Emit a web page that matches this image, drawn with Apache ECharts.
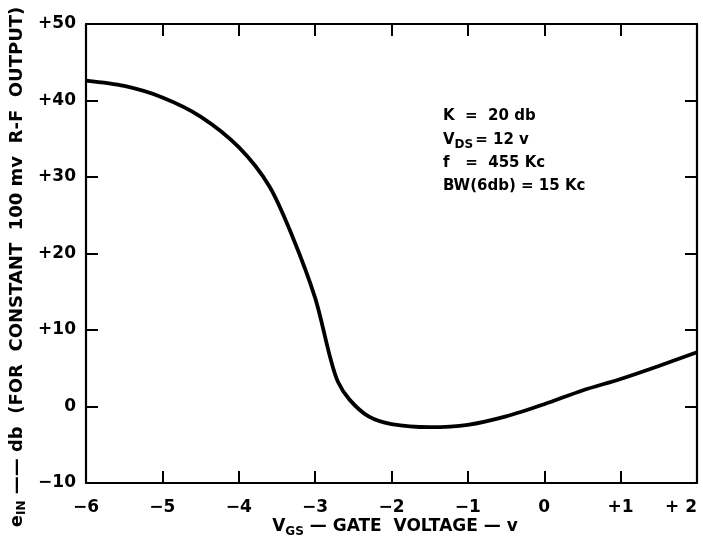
<!DOCTYPE html>
<html>
<head>
<meta charset="utf-8">
<script src="https://cdn.jsdelivr.net/npm/echarts@6/dist/echarts.min.js"></script>
<style>html,body{margin:0;padding:0;background:#fff;}#c{width:703px;height:547px;}</style>
</head>
<body>
<div id="c"></div>
<script>
const gateVoltage = [-6, -5.5, -5, -4.5, -4, -3.6, -3.3, -3.0, -2.8, -2.7, -2.55, -2.3, -2.0, -1.5, -1.0, -0.5, 0, 0.5, 1, 1.5, 2];
const eIn = [42.6, 41.9, 40.4, 37.9, 33.9, 28.8, 22.3, 14.2, 6.3, 3.2, 0.9, -1.3, -2.3, -2.7, -2.4, -1.3, 0.3, 2.1, 3.6, 5.3, 7.1];
const xTickLabels = {"-6": "−6", "-5": "−5", "-4": "−4", "-3": "−3", "-2": "−2", "-1": "−1", "0": "0", "1": "+1", "2": "+ 2"};
const yTickLabels = {"-10": "−10", "0": "0", "10": "+10", "20": "+20", "30": "+30", "40": "+40", "50": "+50"};
const notes = ["K  =  20 db", "{v|V}{s|DS}{v|= 12 v}", "f   =  455 Kc", "BW(6db) = 15 Kc"];

const FONT = "DejaVu Sans";
const chart = echarts.init(document.getElementById('c'));
const lineStyle = {color: '#000', width: 2.2};
const tick = {show: true, inside: true, length: 12, lineStyle: {color: '#000', width: 2}};

chart.setOption({
  backgroundColor: '#fff',
  animation: false,
  grid: {left: 86, right: 6, top: 24, bottom: 64, outerBoundsMode: 'none', containLabel: false},
  xAxis: [
    {type: 'value', min: -6, max: 2, interval: 1, position: 'bottom',
     axisLine: {show: true, onZero: false, lineStyle}, axisTick: tick, splitLine: {show: false},
     axisLabel: {color: '#000', fontFamily: FONT, fontWeight: 'bold', fontSize: 17, margin: 16,
       alignMaxLabel: 'right',
       formatter: v => xTickLabels[String(v)] || ''}},
    {type: 'value', min: -6, max: 2, interval: 1, position: 'top',
     axisLine: {show: true, onZero: false, lineStyle}, axisTick: tick, splitLine: {show: false},
     axisLabel: {show: false}}
  ],
  yAxis: [
    {type: 'value', min: -10, max: 50, interval: 10, position: 'left',
     axisLine: {show: true, onZero: false, lineStyle}, axisTick: tick, splitLine: {show: false},
     axisLabel: {color: '#000', fontFamily: FONT, fontWeight: 'bold', fontSize: 17, margin: 10,
       formatter: v => yTickLabels[String(v)] || ''}},
    {type: 'value', min: -10, max: 50, interval: 10, position: 'right',
     axisLine: {show: true, onZero: false, lineStyle}, axisTick: tick, splitLine: {show: false},
     axisLabel: {show: false}}
  ],
  series: [{
    type: 'line', smooth: 0.3, symbol: 'none',
    data: gateVoltage.map((x, i) => [x, eIn[i]]),
    lineStyle: {color: '#000', width: 3.8}
  }],
  graphic: [
    {type: 'text', x: 395, y: 527, style: {
      text: '{v|V}{s|GS}{v| — GATE  VOLTAGE — v}', align: 'center', verticalAlign: 'middle',
      rich: {v: {fontFamily: FONT, fontWeight: 'bold', fontSize: 17, fill: '#000'},
             s: {fontFamily: FONT, fontWeight: 'bold', fontSize: 12, fill: '#000', padding: [10, 0, 0, 0]}}}},
    {type: 'text', x: 17, y: 267, rotation: Math.PI / 2, style: {
      text: '{v|e}{s|IN}{v| —— db  (FOR  CONSTANT  100 mv  R-F  OUTPUT)}', align: 'center', verticalAlign: 'middle',
      rich: {v: {fontFamily: FONT, fontWeight: 'bold', fontSize: 18, fill: '#000'},
             s: {fontFamily: FONT, fontWeight: 'bold', fontSize: 12, fill: '#000', padding: [10, 0, 0, 0]}}}},
    ...notes.map((t, i) => ({type: 'text', x: 443, y: [116, 140, 163, 186][i], style: {
      text: t, align: 'left', verticalAlign: 'middle',
      rich: {v: {fontFamily: FONT, fontWeight: 'bold', fontSize: 15, fill: '#000'},
             s: {fontFamily: FONT, fontWeight: 'bold', fontSize: 12, fill: '#000', padding: [10, 2, 0, 0]}},
      fontFamily: FONT, fontWeight: 'bold', fontSize: 15, fill: '#000'}}))
  ]
});
</script>
</body>
</html>
